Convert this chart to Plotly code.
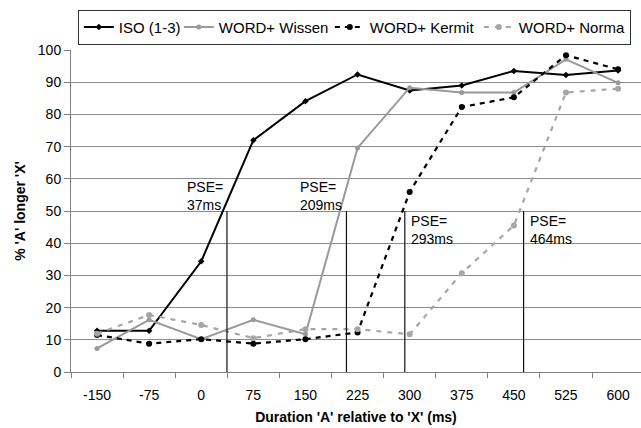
import numpy as np
import plotly.graph_objects as go

categories = [-150, -75, 0, 75, 150, 225, 300, 375, 450, 525, 600]
iso = [12.8, 12.8, 34.4, 72, 84.1, 92.4, 87.4, 89, 93.5, 92.2, 93.6]
wissen = [7.3, 16.2, 10.2, 16.2, 11.7, 69.6, 88.3, 86.8, 86.8, 97.1, 89.8]
kermit = [11.5, 8.8, 10.2, 8.8, 10.2, 12.3, 55.9, 82.3, 85.3, 98.4, 94.0]
norma = [11.9, 17.7, 14.6, 10.5, 13.3, 13.3, 11.7, 30.7, 45.5, 86.8, 88.0]
pse_values = [37, 209, 293, 464]
pse_labels = ["PSE=<br>37ms", "PSE=<br>209ms", "PSE=<br>293ms", "PSE=<br>464ms"]
y_ticks = list(range(0, 101, 10))

cat_labels = [str(c) for c in categories]
idx = list(range(len(categories)))
FONT = "Liberation Sans, Arial, sans-serif"

fig = go.Figure()
fig.add_trace(go.Scatter(x=cat_labels, y=iso, name="ISO (1-3)", mode="lines+markers",
                         line=dict(color="#000000", width=2),
                         marker=dict(size=5, symbol="diamond", color="#000000"),
                         legendwidth=55))
fig.add_trace(go.Scatter(x=cat_labels, y=wissen, name="WORD+ Wissen", mode="lines+markers",
                         line=dict(color="#999999", width=2),
                         marker=dict(size=5, color="#999999"),
                         legendwidth=106))
fig.add_trace(go.Scatter(x=cat_labels, y=kermit, name="WORD+ Kermit", mode="lines+markers",
                         line=dict(color="#000000", width=2.2, dash="5px,5px"),
                         marker=dict(size=6, color="#000000"),
                         legendwidth=104))
fig.add_trace(go.Scatter(x=cat_labels, y=norma, name="WORD+ Norma", mode="lines+markers",
                         line=dict(color="#a6a6a6", width=2.2, dash="5px,6px"),
                         marker=dict(size=6, color="#a6a6a6"),
                         legendwidth=106))

pse_idx = np.interp(pse_values, categories, idx)
for i, (p, lab) in enumerate(zip(pse_idx, pse_labels)):
    fig.add_shape(type="line", xref="x", yref="y", x0=p, x1=p, y0=0, y1=50,
                  line=dict(color="#111111", width=1.2))
    left = i < 2
    fig.add_annotation(x=p, y=60.5 if left else 50, xref="x", yref="y",
                       text=lab, showarrow=False, align="left",
                       xanchor="right" if left else "left", yanchor="top",
                       xshift=-2 if left else 4,
                       font=dict(family=FONT, size=14, color="#000000"))

fig.update_layout(
    width=641, height=428,
    margin=dict(l=71, r=0, t=50, b=56),
    paper_bgcolor="white", plot_bgcolor="white",
    font=dict(family=FONT, size=14, color="#000000"),
    showlegend=True,
    legend=dict(orientation="h", x=0.012, y=1.125, xanchor="left", yanchor="top",
                bordercolor="#333333", borderwidth=1, bgcolor="white",
                font=dict(family=FONT, size=15), itemwidth=30, tracegroupgap=0),
    xaxis=dict(type="category", range=[-0.5, 10.44], tickson="boundaries",
               showgrid=False, zeroline=False, showline=True, linecolor="#808080",
               linewidth=1, ticks="outside", ticklen=5, tickcolor="#808080",
               tickfont=dict(size=14), ticklabelstandoff=10,
               title=dict(text="<b>Duration 'A' relative to 'X' (ms)</b>",
                          font=dict(size=14), standoff=10)),
    yaxis=dict(range=[0, 100], tickvals=y_ticks, showgrid=True, gridcolor="#8c8c8c",
               gridwidth=1, zeroline=False, showline=True, linecolor="#808080",
               linewidth=1, ticks="outside", ticklen=6, tickcolor="#808080",
               tickfont=dict(size=14),
               title=dict(text="<b>% 'A' longer 'X'</b>", font=dict(size=14), standoff=8)),
)

fig.write_html("out.html")
